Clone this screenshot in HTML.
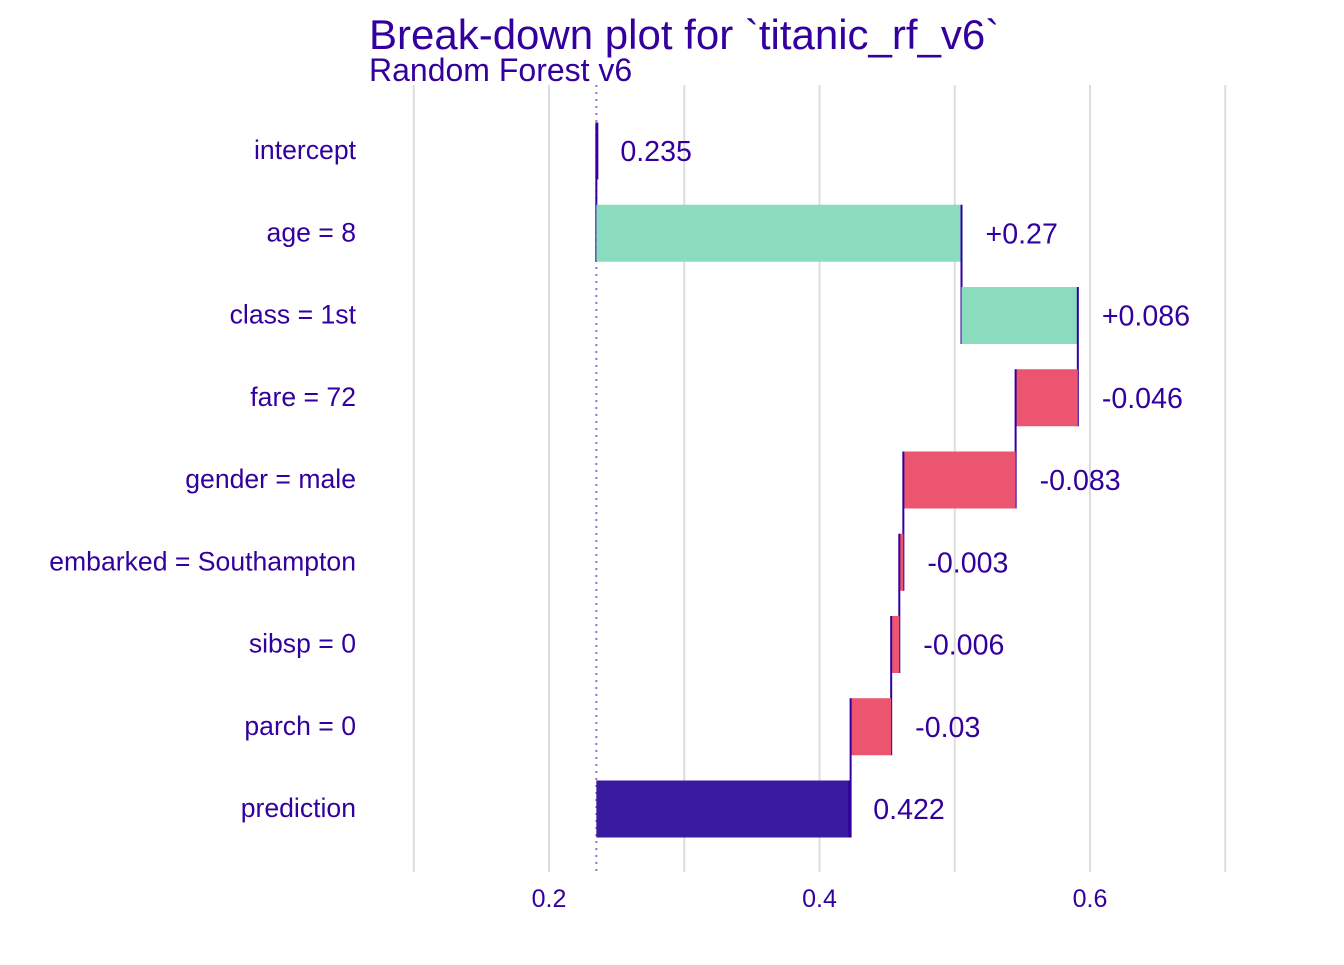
<!DOCTYPE html>
<html><head><meta charset="utf-8"><style>
body{margin:0;background:#fff;font-family:"Liberation Sans",Arial,sans-serif;}
</style></head><body>
<svg id="chart" width="1344" height="960" xmlns="http://www.w3.org/2000/svg">
<text x="369" y="49" font-size="42" fill="#33009e">Break-down plot for `titanic_rf_v6`</text>
<text x="369" y="81" font-size="32" fill="#33009e">Random Forest v6</text>
<g id="grid"></g><g id="bars"></g><g id="labels"></g>
</svg>
<script>
const categories=["intercept","age = 8","class = 1st","fare = 72","gender = male","embarked = Southampton","sibsp = 0","parch = 0","prediction"];
const contributions=[0.235,0.27,0.086,-0.046,-0.083,-0.003,-0.006,-0.03,0.422];
const valueLabels=["0.235","+0.27","+0.086","-0.046","-0.083","-0.003","-0.006","-0.03","0.422"];
const gridValues=[0.1,0.2,0.3,0.4,0.5,0.6,0.7];
const tickValues=[0.2,0.4,0.6];
const NS="http://www.w3.org/2000/svg";
const TXT='#33009e';
const xs=v=>549+(v-0.2)*1352.5;
const ys=i=>151+i*82.25;
function mk(tag,attrs,parent){const e=document.createElementNS(NS,tag);for(const k in attrs)e.setAttribute(k,attrs[k]);parent.appendChild(e);return e;}
const grid=document.getElementById('grid'),bars=document.getElementById('bars'),labels=document.getElementById('labels');
gridValues.forEach(v=>{const l=mk('line',{x1:xs(v),x2:xs(v),y1:85,y2:872,stroke:'#dddddd','stroke-width':2},grid);

});
tickValues.forEach(v=>{const t=mk('text',{x:xs(v),y:907,'font-size':25,fill:TXT,'text-anchor':'middle'},grid);t.textContent=v.toFixed(1);

});
const base=contributions[0];
const dl=mk('line',{x1:xs(base),x2:xs(base),y1:85,y2:872,stroke:'#33009e','stroke-width':2,'stroke-dasharray':'2,5',opacity:0.55},grid);


let cum=0;const h=57;
categories.forEach((c,i)=>{
  const y=ys(i);let a,b,col;
  if(i===0){a=b=base;cum=base;col='#33009e';}
  else if(i===categories.length-1){a=base;b=contributions[i];col='#3a1a9e';}
  else{a=cum;b=cum+contributions[i];cum=b;col=contributions[i]>=0?'#8bdcbe':'#ec5570';}
  const x0=Math.min(xs(a),xs(b)),w=Math.max(Math.abs(xs(b)-xs(a)),2);
  const r=mk('rect',{x:x0,y:y-h/2,width:w,height:h,fill:col},bars);
  
  
  const ln=mk('line',{x1:xs(b),x2:xs(b),y1:y-h/2,y2:i<categories.length-1?ys(i+1)+h/2:y+h/2,stroke:'#33009e','stroke-width':2},bars);
  
  
  const cl=mk('text',{x:356,y:y+8,'font-size':26.6,fill:TXT,'text-anchor':'end'},labels);cl.textContent=c;
  
  
  const vl=mk('text',{x:Math.max(xs(a),xs(b))+24,y:y+10,'font-size':28.6,fill:TXT},labels);vl.textContent=valueLabels[i];
  
  
});
</script>
</body></html>
